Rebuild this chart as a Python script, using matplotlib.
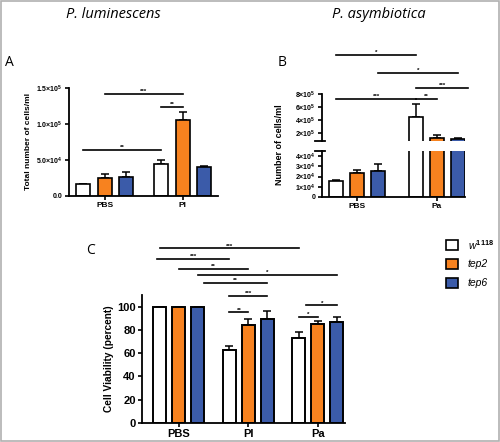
import numpy as np
import matplotlib
matplotlib.use("Agg")
import matplotlib.pyplot as plt
from matplotlib.patches import Rectangle
from matplotlib.lines import Line2D

# data
genotypes = ["w1118", "tep2", "tep6"]
colors = ["white", "#F7821F", "#3B5BA9"]

a_groups = ["PBS", "Pl"]
a_means = [[1.6e4, 4.4e4], [2.5e4, 1.06e5], [2.65e4, 4.0e4]]
a_errs = [[0.05e4, 0.55e4], [0.5e4, 1.1e4], [0.7e4, 0.2e4]]

b_groups = ["PBS", "Pa"]
b_means = [[1.6e4, 4.5e5], [2.35e4, 1.3e5], [2.55e4, 1.05e5]]
b_errs = [[0.05e4, 2.0e5], [0.3e4, 0.4e5], [0.65e4, 0.25e5]]

c_groups = ["PBS", "Pl", "Pa"]
c_means = [[100, 63, 73], [100, 84, 85], [100, 89, 87]]
c_errs = [[0, 3, 5], [0, 5, 3], [0, 7, 4]]

# significance bars: (group_i, bar_i, group_j, bar_j, y, label)
a_sig = [(0, 0, 1, 0, 6.4e4, "**"), (0, 1, 1, 1, 1.42e5, "***"), (1, 0, 1, 1, 1.24e5, "**")]
b_sig = [(0, 0, 1, 0, 7.2e5, "***"), (1, 0, 1, 1, 7.2e5, "**"),
         (0, 2, 1, 2, 1.12e6, "*"), (1, 0, 1, 2.5, 0.89e6, "***"),
         (0, 0, 1, 0, 1.4e6, "*")]
c_sig = [(0, 0, 2, 0, 150, "***"), (0, -0.15, 1, 0, 141, "***"), (0, 1, 1, 1, 132, "**"),
         (0, 2, 2, 2, 127, "*"), (0, 2.3, 1, 2, 120, "**"), (1, 0, 1, 2, 109.5, "***"),
         (1, 0, 1, 1, 95, "**"), (2, 0, 2, 1, 91, "*"), (2, 0.4, 2, 2, 101, "*")]

plt.rcParams["font.family"] = ["Liberation Sans", "DejaVu Sans"]
plt.rcParams["mathtext.fontset"] = "custom"
plt.rcParams["mathtext.rm"] = "Liberation Sans:bold"
plt.rcParams["mathtext.it"] = "Liberation Sans:italic"

fig = plt.figure(figsize=(5, 4.42), dpi=100)
fig.patches.append(Rectangle((0.002, 0.002), 0.996, 0.996, transform=fig.transFigure,
                             fill=False, ec="#b0b0b0", lw=1.2))


def style(ax, fs):
    for s in ["top", "right"]:
        ax.spines[s].set_visible(False)
    for s in ["left", "bottom"]:
        ax.spines[s].set_linewidth(1.3)
    ax.tick_params(width=1.2, length=3, labelsize=fs, pad=1.5)
    for lab in ax.get_yticklabels() + ax.get_xticklabels():
        lab.set_fontweight("bold")


def bars(ax, means, errs, off, w, lw=1.2):
    for k in range(3):
        x = np.arange(len(means[k])) + (k - 1) * off
        ax.bar(x, means[k], w, color=colors[k], edgecolor="black", lw=lw, zorder=2)
        ax.errorbar(x, means[k], yerr=[np.zeros(len(errs[k])), errs[k]], fmt="none",
                    ecolor="black", elinewidth=1.1, capsize=3, capthick=1.1, zorder=1)


def sig(ax, items, off, fs=4.5):
    for gi, bi, gj, bj, y, lab in items:
        x1 = gi + (bi - 1) * off
        x2 = gj + (bj - 1) * off
        ax.plot([x1, x2], [y, y], color="black", lw=1.2, clip_on=False)
        ax.text((x1 + x2) / 2, y, lab, ha="center", va="bottom", fontsize=fs,
                fontweight="bold", clip_on=False)


# panel A
offA = 0.276
axA = fig.add_axes([0.138, 0.5566, 0.298, 0.2443])
bars(axA, a_means, a_errs, offA, 0.18)
axA.set_xlim(-0.46, 1.45)
axA.set_ylim(0, 1.5e5)
axA.set_yticks([0, 5e4, 1e5, 1.5e5])
axA.set_yticklabels(["0.0", r"5.0×10$^{4}$", r"1.0×10$^{5}$", r"1.5×10$^{5}$"])
axA.set_xticks([0, 1])
axA.set_xticklabels(a_groups)
axA.set_ylabel("Total number of cells/ml", fontsize=6, fontweight="bold", labelpad=3)
style(axA, 5)
for lab in axA.get_xticklabels():
    lab.set_fontsize(6)
sig(axA, a_sig, offA)

# panel B (broken axis)
offB = 0.26
axBl = fig.add_axes([0.644, 0.5543, 0.286, 0.104])
axBu = fig.add_axes([0.644, 0.681, 0.286, 0.1063])
for ax in (axBl, axBu):
    bars(ax, b_means, b_errs, offB, 0.175)
    ax.set_xlim(-0.44, 1.35)
axBl.set_ylim(0, 4.5e4)
axBl.set_yticks([0, 1e4, 2e4, 3e4, 4e4])
axBl.set_yticklabels(["0", r"1×10$^{4}$", r"2×10$^{4}$", r"3×10$^{4}$", r"4×10$^{4}$"])
axBl.set_xticks([0, 1])
axBl.set_xticklabels(b_groups)
axBu.set_ylim(0.77e5, 8e5)
axBu.set_yticks([2e5, 4e5, 6e5, 8e5])
axBu.set_yticklabels([r"2×10$^{5}$", r"4×10$^{5}$", r"6×10$^{5}$", r"8×10$^{5}$"])
axBu.set_xticks([])
axBu.spines["bottom"].set_visible(False)
style(axBl, 5)
style(axBu, 5)
for lab in axBl.get_xticklabels():
    lab.set_fontsize(6)
axBl.add_line(Line2D([-0.05, 0.02], [1, 1], transform=axBl.transAxes, color="black",
                     lw=1.3, clip_on=False))
axBu.add_line(Line2D([-0.05, 0.02], [0, 0], transform=axBu.transAxes, color="black",
                     lw=1.3, clip_on=False))
fig.text(0.56, 0.672, "Number of cells/ml", rotation=90, ha="center", va="center",
         fontsize=6.5, fontweight="bold")
sig(axBu, b_sig, offB)

# panel C
offC = 0.273
axC = fig.add_axes([0.284, 0.043, 0.406, 0.2896])
bars(axC, c_means, c_errs, offC, 0.187, lw=1.4)
axC.set_xlim(-0.53, 2.39)
axC.set_ylim(0, 110)
axC.set_yticks(range(0, 101, 20))
axC.set_xticks([0, 1, 2])
axC.set_xticklabels(c_groups)
axC.set_ylabel("Cell Viability (percent)", fontsize=7.3, fontweight="bold", labelpad=2)
style(axC, 8)
for lab in axC.get_xticklabels():
    lab.set_fontsize(8)
sig(axC, c_sig, offC)

# legend
leg_labels = [r"$w^{\mathit{1118}}$", "tep2", "tep6"]
for k in range(3):
    y = 1 - (245 + 19 * k) / 442
    fig.patches.append(Rectangle((446 / 500, y - 0.012), 12 / 500, 10 / 442,
                                 transform=fig.transFigure, fc=colors[k], ec="black", lw=1.2))
    fig.text(468 / 500, y - 0.001, leg_labels[k], fontsize=7.5, style="italic", va="center")

# titles and panel letters
fig.text(113 / 500, 1 - 15 / 442, "P. luminescens", fontsize=10.5, style="italic",
         ha="center", va="center", family="Open Sans")
fig.text(379 / 500, 1 - 15 / 442, "P. asymbiotica", fontsize=10.5, style="italic",
         ha="center", va="center", family="Open Sans")
fig.text(5 / 500, 1 - 62 / 442, "A", fontsize=10, va="center", family="Open Sans")
fig.text(278 / 500, 1 - 62 / 442, "B", fontsize=10, va="center", family="Open Sans")
fig.text(86 / 500, 1 - 250 / 442, "C", fontsize=10, va="center", family="Open Sans")

fig.savefig("out.png", dpi=100)
